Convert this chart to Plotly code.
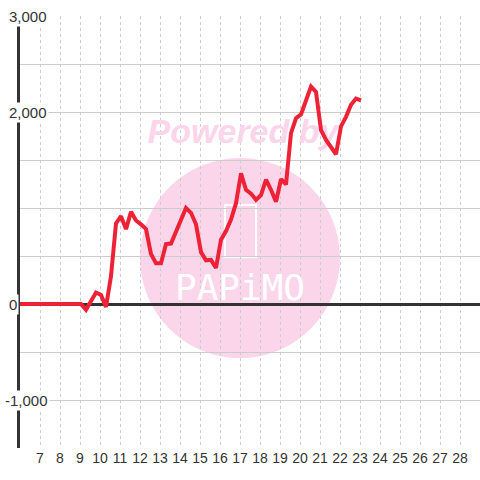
import plotly.graph_objects as go

# данные
x_vals = [6, 9.05, 9.3, 9.55, 9.8, 10.05, 10.3, 10.55, 10.8, 11.05, 11.3,
          11.55, 11.8, 12.05, 12.3, 12.55, 12.8, 13.05, 13.3, 13.55, 13.8,
          14.05, 14.3, 14.55, 14.8, 15.05, 15.3, 15.55, 15.8, 16.05, 16.3,
          16.55, 16.8, 17.05, 17.3, 17.55, 17.8, 18.05, 18.3, 18.55, 18.8,
          19.05, 19.3, 19.55, 19.8, 20.05, 20.3, 20.55, 20.8, 21.05, 21.3,
          21.55, 21.8, 22.05, 22.3, 22.55, 22.8, 23.05]
y_vals = [0, 0, -60, 30, 120, 95, -30, 290, 840, 915, 780,
          960, 870, 830, 780, 520, 425, 425, 625, 630, 760,
          870, 1000, 950, 830, 540, 455, 460, 375, 670, 760,
          880, 1050, 1360, 1190, 1150, 1085, 1135, 1295, 1190, 1065,
          1300, 1245, 1780, 1935, 1975, 2125, 2265, 2210, 1810, 1710,
          1630, 1560, 1850, 1950, 2075, 2140, 2120]

x_ticks = list(range(7, 29))
y_ticks = [3000, 2000, 0, -1000]
y_tick_text = ['3,000', '2,000', '0', '-1,000']

pink = '#fbd5ea'

fig = go.Figure()

# водяной знак
fig.add_shape(type='circle', xref='x', yref='y', x0=12, x1=22, y0=-563, y1=1521,
              fillcolor=pink, line_width=0, layer='below')
fig.add_shape(type='rect', xref='x', yref='y', x0=16.25, x1=17.8, y0=490, y1=1031,
              line=dict(color='white', width=2), layer='below')

fig.add_trace(go.Scatter(
    x=[17.15], y=[1770], mode='text', text=['Powered by'],
    textfont=dict(size=34, color=pink, family='Liberation Sans', weight='bold', style='italic'),
    showlegend=False, hoverinfo='skip'
))
fig.add_trace(go.Scatter(
    x=[17], y=[140], mode='text', text=['PAPiMO'],
    textfont=dict(size=36, color='white', family='DejaVu Sans Mono'),
    showlegend=False, hoverinfo='skip'
))

fig.add_trace(go.Scatter(
    x=x_vals, y=y_vals, mode='lines',
    line=dict(color='#ee2236', width=4),
    showlegend=False
))

fig.update_layout(
    width=480, height=480,
    margin=dict(l=20, r=0, t=16, b=32),
    plot_bgcolor='white', paper_bgcolor='white',
    font=dict(family='Liberation Sans', size=14, color='#333333'),
)

fig.update_xaxes(
    range=[6, 29], tickvals=x_ticks, showline=False, zeroline=False,
    showgrid=True, gridcolor='#cccccc', griddash='dot', gridwidth=1,
    ticks='', tickfont=dict(size=14, color='#333333'), fixedrange=True
)
fig.update_yaxes(
    range=[-1500, 3000], dtick=500, showticklabels=False,
    showgrid=True, gridcolor='#cccccc', gridwidth=1,
    zeroline=True, zerolinecolor='#333333', zerolinewidth=3,
    showline=True, linecolor='#333333', linewidth=3, ticks=''
)

# подписи оси Y поверх оси, с белым фоном
for v, t in zip(y_ticks, y_tick_text):
    fig.add_annotation(
        x=-0.037 if v < 0 else -0.028, xref='paper', y=v, yref='y',
        text=t, showarrow=False, xanchor='left', yanchor='middle',
        bgcolor='white', borderpad=1,
        font=dict(size=15, color='#333333')
    )

fig.write_html("out.html", config={'displayModeBar': False},
               post_script="document.body.style.margin='0';")
